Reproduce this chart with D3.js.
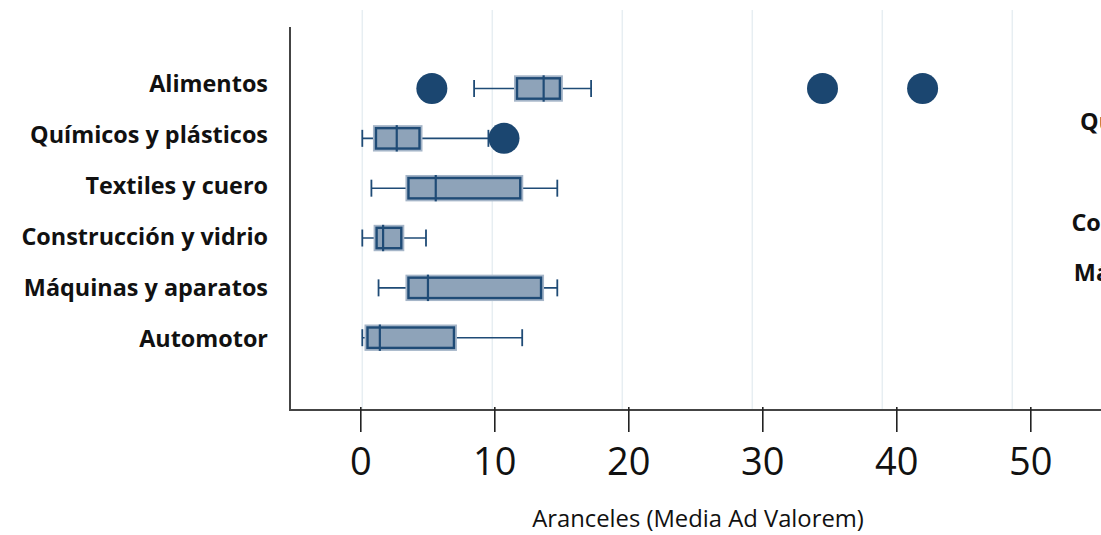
<!DOCTYPE html>
<html>
<head>
<meta charset="utf-8">
<script src="https://cdn.jsdelivr.net/npm/d3@7"></script>
<style>
  body { margin: 0; background: #fff; }
  svg { display: block; }
  text { font-family: "Open Sans", sans-serif; fill: #111; }
</style>
</head>
<body>
<svg id="chart" width="1101" height="535"></svg>
<script>
var categories = ["Alimentos", "Químicos y plásticos", "Textiles y cuero", "Construcción y vidrio", "Máquinas y aparatos", "Automotor"];
var whiskerLow = [8.6, 0, 0.7, 0, 1.25, 0];
var q1 = [11.9, 1.05, 3.55, 1.1, 3.55, 0.4];
var median = [13.95, 2.65, 5.65, 1.6, 5.05, 1.35];
var q3 = [15.2, 4.4, 12.15, 3.0, 13.75, 7.05];
var whiskerHigh = [17.6, 9.7, 15.0, 4.9, 15.0, 12.3];
var outlierCats = ["Alimentos", "Alimentos", "Alimentos", "Químicos y plásticos"];
var outlierValues = [5.35, 35.4, 43.1, 10.9];
var tickValues = [0, 10, 20, 30, 40, 50];
var gridValues = [0, 10, 20, 30, 40, 50];
var axisTitle = "Aranceles (Media Ad Valorem)";

var svg = d3.select("#chart");

var boxes = categories.map(function (c, i) {
  return { cat: c, lo: whiskerLow[i], q1: q1[i], med: median[i], q3: q3[i], hi: whiskerHigh[i] };
});
var outliers = outlierCats.map(function (c, i) { return { cat: c, v: outlierValues[i] }; });

// data scale (follows the gridlines) and the printed tick scale, which is slightly wider in the source
var x = d3.scaleLinear().domain([0, 50]).range([362.3, 1012.3]);
var xTicks = d3.scaleLinear().domain([0, 50]).range([360.3, 1030.3]);
var y = d3.scalePoint().domain(categories).range([88.5, 337.7]);
var yLabel = d3.scalePoint().domain(categories).range([91.7, 347.3]);
var yLabelRight = d3.scalePoint().domain(categories).range([79.7, 331.2]);

var boxH = 20.4, halo = 3, capH = 17, r = 15.5;
var fill = "#8ea3b9", dark = "#1f4b76", dot = "#1b4670";

// gridlines
svg.append("g")
  .selectAll("line")
  .data(gridValues)
  .enter().append("line")
  .attr("x1", function (d) { return x(d); })
  .attr("x2", function (d) { return x(d); })
  .attr("y1", 10)
  .attr("y2", 410)
  .style("stroke", "#e7eef2")
  .style("stroke-width", 1.5);

// whiskers
var plot = svg.append("g");
plot.selectAll(".whisker")
  .data(boxes)
  .enter().append("line")
  .classed("whisker", true)
  .attr("x1", function (d) { return x(d.lo); })
  .attr("x2", function (d) { return x(d.hi); })
  .attr("y1", function (d) { return y(d.cat); })
  .attr("y2", function (d) { return y(d.cat); })
  .style("stroke", dark)
  .style("stroke-width", 1.6);

["lo", "hi"].forEach(function (k) {
  plot.selectAll(".cap-" + k)
    .data(boxes)
    .enter().append("line")
    .attr("x1", function (d) { return x(d[k]); })
    .attr("x2", function (d) { return x(d[k]); })
    .attr("y1", function (d) { return y(d.cat) - capH / 2; })
    .attr("y2", function (d) { return y(d.cat) + capH / 2; })
    .style("stroke", dark)
    .style("stroke-width", 1.8);
});

// box halo + box
plot.selectAll(".halo")
  .data(boxes)
  .enter().append("rect")
  .attr("x", function (d) { return x(d.q1) - halo; })
  .attr("y", function (d) { return y(d.cat) - boxH / 2 - halo; })
  .attr("width", function (d) { return x(d.q3) - x(d.q1) + 2 * halo; })
  .attr("height", boxH + 2 * halo)
  .style("fill", "#a5b5c8");

plot.selectAll(".box")
  .data(boxes)
  .enter().append("rect")
  .attr("x", function (d) { return x(d.q1); })
  .attr("y", function (d) { return y(d.cat) - boxH / 2; })
  .attr("width", function (d) { return x(d.q3) - x(d.q1); })
  .attr("height", boxH)
  .style("fill", fill)
  .style("stroke", dark)
  .style("stroke-width", 2.4);

plot.selectAll(".median")
  .data(boxes)
  .enter().append("line")
  .attr("x1", function (d) { return x(d.med); })
  .attr("x2", function (d) { return x(d.med); })
  .attr("y1", function (d) { return y(d.cat) - boxH / 2 - halo; })
  .attr("y2", function (d) { return y(d.cat) + boxH / 2 + halo; })
  .style("stroke", dark)
  .style("stroke-width", 2.2);

// outliers
plot.selectAll(".dot")
  .data(outliers)
  .enter().append("circle")
  .attr("cx", function (d) { return x(d.v); })
  .attr("cy", function (d) { return y(d.cat); })
  .attr("r", r)
  .style("fill", dot);

// axes lines
svg.append("line")
  .attr("x1", 290).attr("x2", 290).attr("y1", 27).attr("y2", 411)
  .style("stroke", "#444").style("stroke-width", 2);
svg.append("line")
  .attr("x1", 289).attr("x2", 1101).attr("y1", 410).attr("y2", 410)
  .style("stroke", "#444").style("stroke-width", 2);

// x axis ticks + labels
var xAxis = svg.append("g")
  .attr("transform", "translate(0,407)")
  .call(d3.axisBottom(xTicks).tickValues(tickValues).tickSize(25).tickSizeOuter(0).tickPadding(16));
xAxis.select(".domain").remove();
xAxis.selectAll(".tick line").style("stroke", "#222").style("stroke-width", 1.6);
xAxis.selectAll(".tick text")
  .style("font-family", "'Open Sans', sans-serif")
  .style("font-size", "38px")
  .style("fill", "#111");

svg.append("text")
  .attr("x", 698)
  .attr("y", 527)
  .attr("text-anchor", "middle")
  .style("font-size", "23.8px")
  .text(axisTitle);

// category labels (left panel)
svg.append("g")
  .selectAll("text")
  .data(categories)
  .enter().append("text")
  .attr("x", 268)
  .attr("y", function (d) { return yLabel(d); })
  .attr("text-anchor", "end")
  .style("font-weight", "bold")
  .style("font-size", "23.4px")
  .text(function (d) { return d; });

// labels of the neighbouring panel, cut by the right edge; drop the ones that fall fully outside
var rightLabels = svg.append("g")
  .selectAll("text")
  .data(categories)
  .enter().append("text")
  .attr("x", 1318)
  .attr("y", function (d) { return yLabelRight(d); })
  .attr("text-anchor", "end")
  .style("font-weight", "bold")
  .style("font-size", "23.4px")
  .text(function (d) { return d; });
rightLabels.filter(function () { return 1318 - this.getComputedTextLength() >= 1101; }).remove();
</script>
</body>
</html>
